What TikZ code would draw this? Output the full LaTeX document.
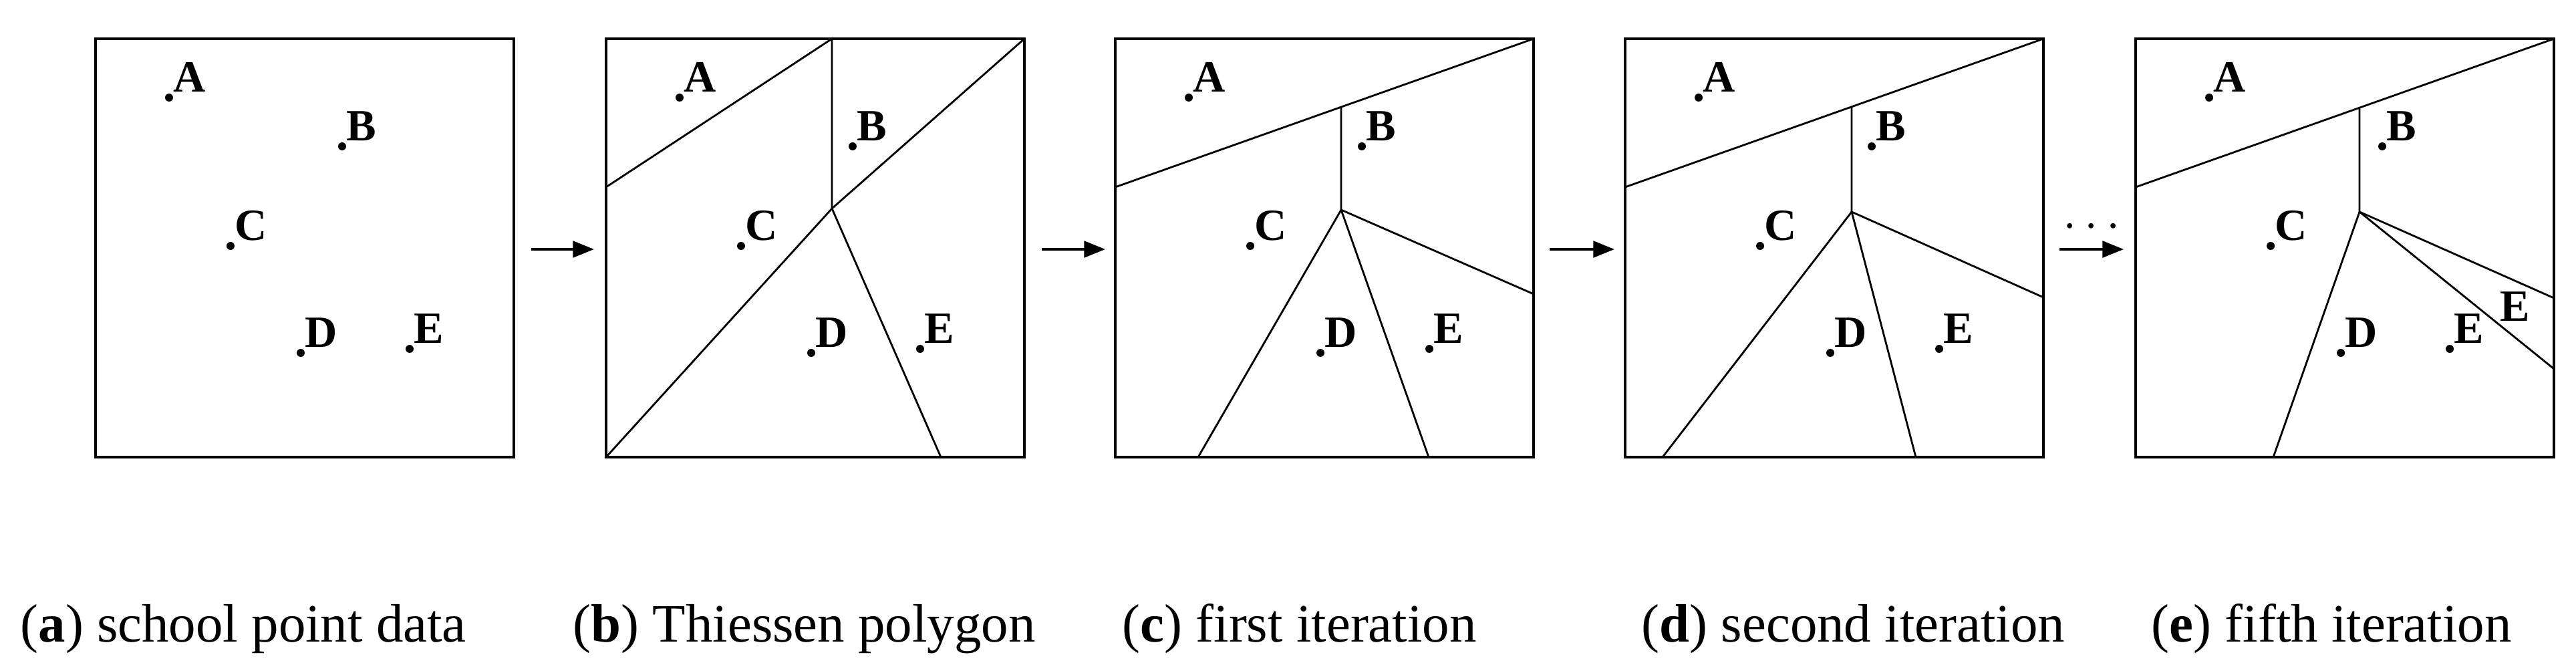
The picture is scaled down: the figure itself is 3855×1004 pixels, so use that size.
\documentclass[tikz,border=0pt]{standalone}
\usepackage{fontspec}
\setmainfont{Liberation Serif}
\usetikzlibrary{arrows.meta}
\begin{document}
\begin{tikzpicture}[x=0.01cm,y=-0.01cm,
  frame/.style={draw,line width=1pt},
  cut/.style={draw,line width=0.8pt},
  dot/.style={circle,fill,inner sep=0pt,minimum size=3.4pt},
  lab/.style={anchor=base west,inner sep=0pt,font=\fontsize{19}{19}\selectfont\bfseries},
  flow/.style={line width=1pt,-{Triangle[length=9pt,width=7pt]}},
  captxt/.style={anchor=base west,inner sep=0pt,font=\fontsize{23}{23}\selectfont}]
\useasboundingbox (0,0) rectangle (3855,1004);
\newcommand{\pts}[1]{%
  \node[dot] (#1a) at (110,88) {}; \node[lab] at (116,80) {A};
  \node[dot] (#1b) at (369,161) {}; \node[lab] at (375,153) {B};
  \node[dot] (#1c) at (202,310) {}; \node[lab] at (208,302) {C};
  \node[dot] (#1d) at (307,470) {}; \node[lab] at (313,462) {D};
  \node[dot] (#1e) at (470,464) {}; \node[lab] at (476,456) {E};}
% panel a
\begin{scope}[shift={(143,58)}]
  \draw[frame] (0,0) rectangle (626,626);
  \pts{pa}
\end{scope}
% panel b
\begin{scope}[shift={(907,58)}]
  \draw[frame] (0,0) rectangle (626,626);
  \coordinate (bl) at (0,222); \coordinate (bt) at (338,0);
  \coordinate (bv) at (338,254); \coordinate (btr) at (626,0);
  \coordinate (bbl) at (0,626); \coordinate (bb) at (501,626);
  \draw[cut] (bl) -- (bt) -- (bv);
  \draw[cut] (btr) -- (bv) -- (bbl);
  \draw[cut] (bv) -- (bb);
  \pts{pb}
\end{scope}
% panel c
\begin{scope}[shift={(1669,58)}]
  \draw[frame] (0,0) rectangle (626,626);
  \coordinate (cl) at (0,222); \coordinate (ctr) at (626,0);
  \coordinate (ct) at (338,103); \coordinate (cv) at (338,256);
  \coordinate (cr) at (626,382); \coordinate (cb1) at (124,626); \coordinate (cb2) at (469,626);
  \draw[cut] (cl) -- (ctr);
  \draw[cut] (ct) -- (cv) -- (cr);
  \draw[cut] (cb1) -- (cv) -- (cb2);
  \pts{pc}
\end{scope}
% panel d
\begin{scope}[shift={(2432,58)}]
  \draw[frame] (0,0) rectangle (626,626);
  \coordinate (dl) at (0,222); \coordinate (dtr) at (626,0);
  \coordinate (dt) at (339,103); \coordinate (dv) at (339,259);
  \coordinate (dr) at (626,387); \coordinate (db1) at (56,626); \coordinate (db2) at (435,626);
  \draw[cut] (dl) -- (dtr);
  \draw[cut] (dt) -- (dv) -- (dr);
  \draw[cut] (db1) -- (dv) -- (db2);
  \pts{pd}
\end{scope}
% panel e
\begin{scope}[shift={(3196,58)}]
  \draw[frame] (0,0) rectangle (626,626);
  \coordinate (el) at (0,222); \coordinate (etr) at (626,0);
  \coordinate (et) at (335,103); \coordinate (ev) at (335,259);
  \coordinate (er1) at (626,388); \coordinate (er2) at (626,494); \coordinate (eb) at (206,626);
  \draw[cut] (el) -- (etr);
  \draw[cut] (et) -- (ev) -- (er1);
  \draw[cut] (ev) -- (er2);
  \draw[cut] (ev) -- (eb);
  \pts{pe}
  \node[lab] at (545,423) {E};
\end{scope}
% arrows
\coordinate (a1s) at (795,373); \coordinate (a1e) at (889,373);
\coordinate (a2s) at (1559,373); \coordinate (a2e) at (1654,373);
\coordinate (a3s) at (2319,373); \coordinate (a3e) at (2416,373);
\coordinate (a4s) at (3082,373); \coordinate (a4e) at (3178,373);
\draw[flow] (a1s) -- (a1e);
\draw[flow] (a2s) -- (a2e);
\draw[flow] (a3s) -- (a3e);
\draw[flow] (a4s) -- (a4e);
\node[font=\fontsize{20}{20}\selectfont] (dots) at (3130,340) {$\cdots$};
% captions
\node[captxt] (ca) at (30,960) {(\textbf{a}) school point data};
\node[captxt] (cb) at (857,960) {(\textbf{b}) Thiessen polygon};
\node[captxt] (cc) at (1679,960) {(\textbf{c}) first iteration};
\node[captxt] (cd) at (2456,960) {(\textbf{d}) second iteration};
\node[captxt] (ce) at (3219,960) {(\textbf{e}) fifth iteration};
\end{tikzpicture}
\end{document}
